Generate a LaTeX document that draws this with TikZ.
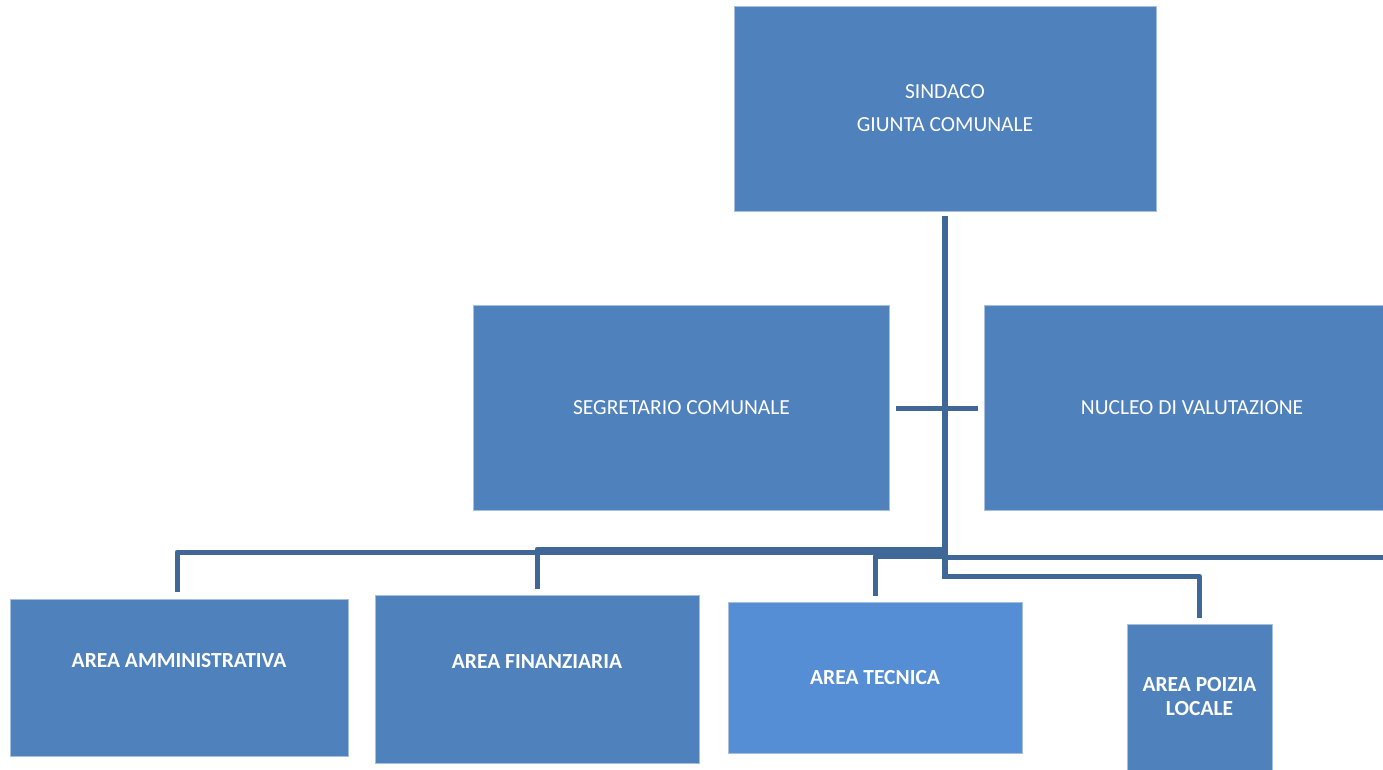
\documentclass[tikz,border=0pt]{standalone}
\usepackage{fontspec}
\setmainfont{Carlito}
\definecolor{boxblue}{HTML}{4F81BD}
\definecolor{techblue}{HTML}{558ED5}
\definecolor{linkblue}{HTML}{3F6797}
\definecolor{edgeblue}{HTML}{A7BFDE}
\begin{document}
\begin{tikzpicture}[x=1pt,y=-1pt,
  orgbox/.style={rectangle, fill=boxblue, draw=edgeblue, line width=0.6pt, text=white, align=center, inner sep=0pt,
    font=\fontsize{21.5}{24}\selectfont},
  areabox/.style={orgbox, font=\fontsize{21.5}{24}\selectfont\bfseries},
  plainlabel/.style={text=white, align=center, font=\fontsize{21.5}{24}\selectfont},
  boldlabel/.style={text=white, align=center, font=\fontsize{21.5}{24}\selectfont\bfseries},
  conn/.style={draw=linkblue, line width=5pt},
  trunkline/.style={draw=linkblue, line width=6pt}]
\useasboundingbox (0,0) rectangle (1383,769);
% boxes
\node[orgbox, minimum width=422pt, minimum height=205pt] (sindaco) at (945,108.5) {SINDACO\\[9pt]GIUNTA COMUNALE};
\node[orgbox, minimum width=416pt, minimum height=205pt] (segr) at (681.5,407.5) {SEGRETARIO COMUNALE};
\node[orgbox, minimum width=400pt, minimum height=205pt] (nucleo) at (1184,407.5) {};
\node[plainlabel] (nucleotxt) at (1192,407.5) {NUCLEO DI VALUTAZIONE};
\node[areabox, minimum width=338pt, minimum height=157pt] (amm) at (179,677.5) {};
\node[boldlabel] (ammtxt) at (179,661) {AREA AMMINISTRATIVA};
\node[areabox, minimum width=324pt, minimum height=168pt] (fin) at (537,679) {};
\node[boldlabel] (fintxt) at (537,662) {AREA FINANZIARIA};
\node[areabox, fill=techblue, minimum width=294pt, minimum height=151pt] (tec) at (875,677.5) {};
\node[boldlabel] (tectxt) at (875,678) {AREA TECNICA};
\node[areabox, minimum width=145pt, minimum height=150pt] (pol) at (1199.5,699) {};
\node[boldlabel] (poltxt) at (1199.5,696.5) {AREA POIZIA\\LOCALE};
% junction coordinates
\coordinate (jfin) at (945,549);
\coordinate (jamm) at (945,552);
\coordinate (jtec) at (945,556);
\coordinate (jright) at (945,557.5);
\coordinate (jpol) at (945,576.5);
\coordinate (tbottom) at (945,579);
\coordinate (redge) at (1383,557.5);
\coordinate (jcross) at (945,408);
% connectors
\draw[trunkline] ([yshift=-5pt]sindaco.south) -- (tbottom);
\draw[conn] ([xshift=6pt]segr.east |- jcross) -- ([xshift=-6pt]nucleo.west |- jcross);
\draw[conn, line join=round] ([xshift=-2pt,yshift=7pt]amm.north) |- (jamm);
\draw[conn, line join=round] ([yshift=6pt]fin.north) |- (jfin);
\draw[conn, line join=round] ([yshift=6pt]tec.north) |- (jtec);
\draw[conn] (jright) -- (redge);
\draw[conn, line join=round] (jpol) -| ([yshift=6pt]pol.north);
\end{tikzpicture}
\end{document}
